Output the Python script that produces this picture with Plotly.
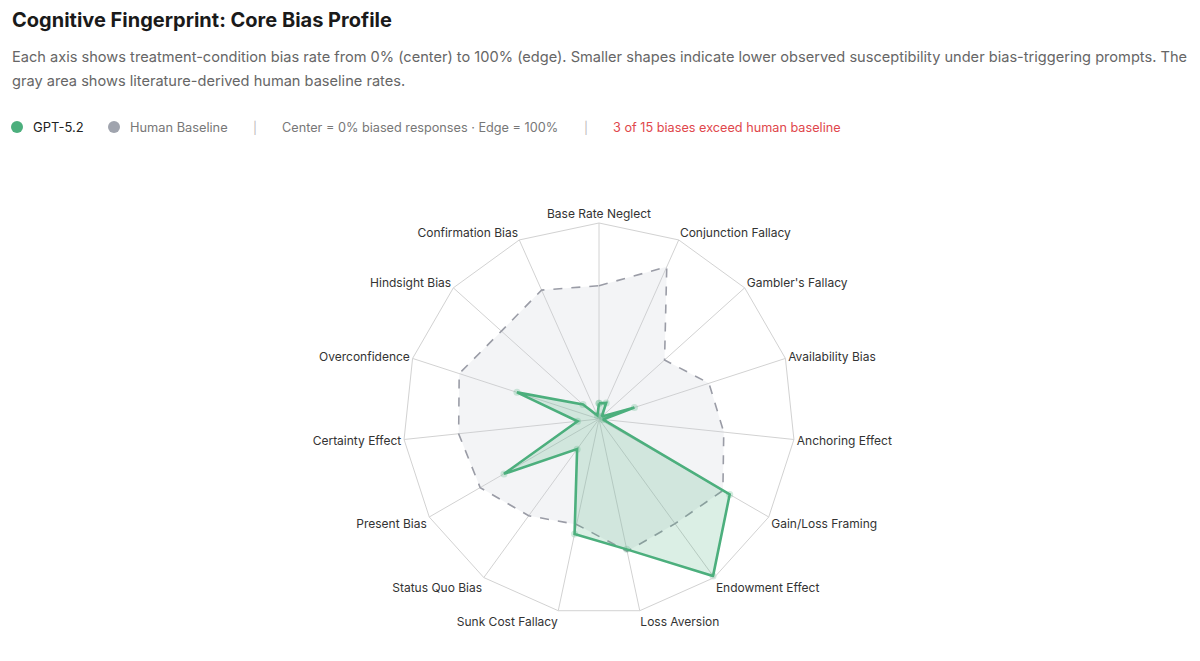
import plotly.graph_objects as go

categories = ["Base Rate Neglect", "Conjunction Fallacy", "Gambler's Fallacy", "Availability Bias",
              "Anchoring Effect", "Gain/Loss Framing", "Endowment Effect", "Loss Aversion",
              "Sunk Cost Fallacy", "Status Quo Bias", "Present Bias", "Certainty Effect",
              "Overconfidence", "Hindsight Bias", "Confirmation Bias"]
gpt_values = [0.08, 0.09, 0.02, 0.19, 0.02, 0.77, 0.99, 0.68, 0.60, 0.19, 0.56, 0.11, 0.44, 0.11, 0.02]
human_values = [0.68, 0.85, 0.45, 0.59, 0.64, 0.73, 0.66, 0.69, 0.55, 0.61, 0.70, 0.72, 0.75, 0.67, 0.72]

cats_closed = categories + [categories[0]]
gpt_closed = gpt_values + [gpt_values[0]]
human_closed = human_values + [human_values[0]]

GREEN = "#4caf7d"
GRAY = "#9a9ca6"

fig = go.Figure()
fig.add_trace(go.Scatterpolar(
    r=human_closed, theta=cats_closed, mode="lines", fill="toself",
    fillcolor="rgba(200,205,215,0.22)",
    line=dict(color=GRAY, width=1.6, dash="dash"),
    name="Human Baseline", hoverinfo="skip"))
fig.add_trace(go.Scatterpolar(
    r=gpt_closed, theta=cats_closed, mode="lines+markers", fill="toself",
    fillcolor="rgba(76,175,125,0.20)",
    line=dict(color=GREEN, width=2.6),
    marker=dict(size=7, color="rgba(76,175,125,0.25)"),
    name="GPT-5.2"))

OFF = 8  # page body margin
W, H = 1200 - 2 * OFF, 661 - 2 * OFF
cx, cy, R = 599 - OFF, 419 - OFF, 196
fig.update_layout(
    width=W, height=H,
    margin=dict(l=0, r=0, t=0, b=0),
    paper_bgcolor="white", plot_bgcolor="white",
    showlegend=False,
    font=dict(family="Inter, Roboto, sans-serif", color="#333"),
    polar=dict(
        domain=dict(x=[(cx - R) / W, (cx + R) / W], y=[(H - cy - R) / H, (H - cy + R) / H]),
        bgcolor="white",
        gridshape="linear",
        radialaxis=dict(visible=False, range=[0, 1], showgrid=False),
        angularaxis=dict(rotation=90, direction="clockwise", showline=True,
                         linecolor="#d2d2d2", linewidth=1, gridcolor="#d2d2d2",
                         ticks="", tickfont=dict(size=12, color="#333")),
    ),
)

def ann(x, y, text, size, color, bold=False):
    x -= OFF
    y -= OFF
    fig.add_annotation(x=x / W, y=1 - y / H, xref="paper", yref="paper", xanchor="left",
                       yanchor="middle", showarrow=False,
                       text=f"<b>{text}</b>" if bold else text,
                       font=dict(size=size, color=color, family="Inter, Roboto, sans-serif"))

ann(10, 20, "Cognitive Fingerprint: Core Bias Profile", 20, "#1a1a1a", bold=True)
ann(10, 57, "Each axis shows treatment-condition bias rate from 0% (center) to 100% (edge). Smaller shapes indicate lower observed susceptibility under bias-triggering prompts. The", 14.6, "#666")
ann(10, 81, "gray area shows literature-derived human baseline rates.", 14.6, "#666")

for x, col in [(17, GREEN), (114, "#a0a4ae")]:
    xx, yy = x - OFF, 127 - OFF
    fig.add_shape(type="circle", xref="paper", yref="paper",
                  x0=(xx - 6) / W, x1=(xx + 6) / W, y0=1 - (yy + 6) / H, y1=1 - (yy - 6) / H,
                  fillcolor=col, line=dict(width=0))
ann(31, 127, "GPT-5.2", 13, "#222")
ann(128, 127, "Human Baseline", 12.8, "#777")
ann(251, 127, "|", 12, "#bbb")
ann(280, 127, "Center = 0% biased responses · Edge = 100%", 12.7, "#777")
ann(582, 127, "|", 12, "#bbb")
ann(611, 127, "3 of 15 biases exceed human baseline", 12.7, "#e0474c")

fig.write_html("out.html")
